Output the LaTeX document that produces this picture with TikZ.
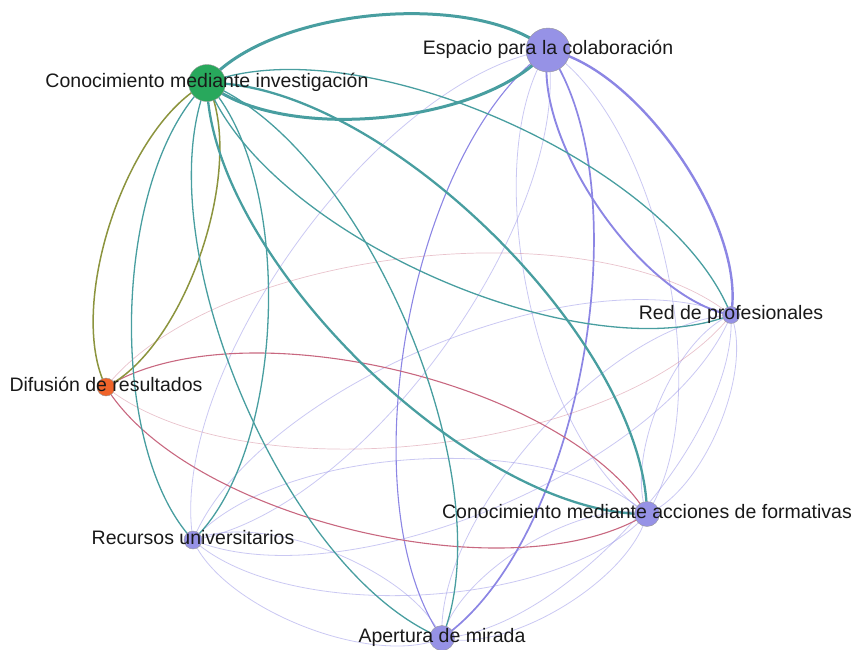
\documentclass[tikz,border=0pt]{standalone}
\usepackage{fontspec}
\setmainfont{Liberation Sans}
\usepackage{tikz}
\pgfdeclarelayer{edgeLayer}
\pgfsetlayers{edgeLayer,main}
\tikzstyle{graphView} = [x = 1pt, y = -1pt]
\definecolor{greenNode}{RGB}{40,168,92}
\definecolor{purpleNode}{RGB}{150,146,230}
\definecolor{orangeNode}{RGB}{240,100,42}
\definecolor{tealEdge}{RGB}{72,158,160}
\definecolor{oliveEdge}{RGB}{140,148,62}
\definecolor{pinkEdge}{RGB}{200,104,128}
\definecolor{purpleEdge}{RGB}{140,134,228}
\tikzstyle{nodeStyle} = [circle, draw=black!40, line width=.4pt, inner sep=0pt]
\tikzstyle{labelText} = [anchor=base, yshift=-4pt, inner sep=0pt, text=black!90, font=\fontsize{19.5}{22}\selectfont]
\tikzstyle{arcStyle} = [bend left=45, looseness=.72]
\tikzstyle{tealLine} = [color=tealEdge, line width=1.3pt]
\tikzstyle{tealHeavy} = [color=tealEdge, line width=2.3pt]
\tikzstyle{oliveLine} = [color=oliveEdge, line width=1.5pt]
\tikzstyle{pinkLine} = [color=pinkEdge, line width=1.1pt]
\tikzstyle{pinkFaint} = [color=pinkEdge, line width=.7pt, opacity=.4]
\tikzstyle{purpleLine} = [color=purpleEdge, line width=1.4pt]
\tikzstyle{purpleFaint} = [color=purpleNode, line width=.8pt, opacity=.5]
\newcommand{\graphNode}[5]{\node [nodeStyle, fill=#4, minimum size=#5pt] (#1) at (#2,#3) {};}
\newcommand{\graphLabel}[2]{\node [labelText] (lbl#1) at (#1.center) {#2};}
\newcommand{\edgeArc}[3]{\draw [#3] (#1.center) to [arcStyle] (#2.center);}
\newcommand{\edgePair}[4]{\edgeArc{#1}{#2}{#3}\edgeArc{#2}{#1}{#4}}

\begin{document}
\begin{tikzpicture}[graphView]
\useasboundingbox (0,0) rectangle (855,649);
% nodes (circular layout)
\graphNode{I}{207}{83}{greenNode}{37}
\graphNode{E}{548}{50}{purpleNode}{44}
\graphNode{R}{731}{315}{purpleNode}{17}
\graphNode{F}{647}{514}{purpleNode}{25}
\graphNode{A}{442}{638}{purpleNode}{25}
\graphNode{U}{193}{540}{purpleNode}{18}
\graphNode{D}{106}{387}{orangeNode}{18}
\begin{pgfonlayer}{edgeLayer}
% purple edges
\edgePair{E}{U}{purpleFaint}{purpleFaint}
\edgePair{E}{F}{purpleFaint}{purpleFaint}
\edgePair{R}{F}{purpleFaint}{purpleFaint}
\edgePair{R}{A}{purpleFaint}{purpleFaint}
\edgePair{R}{U}{purpleFaint}{purpleFaint}
\edgePair{F}{A}{purpleFaint}{purpleFaint}
\edgePair{F}{U}{purpleFaint}{purpleFaint}
\edgePair{A}{U}{purpleFaint}{purpleFaint}
\edgePair{E}{A}{purpleLine, line width=1.7pt}{purpleLine, line width=1.1pt}
\edgePair{E}{R}{purpleLine, line width=2.4pt}{purpleLine, line width=1.9pt}
% difusion edges
\edgePair{D}{R}{pinkFaint}{pinkFaint}
\edgePair{D}{F}{pinkLine}{pinkLine}
% investigacion edges
\edgePair{I}{D}{oliveLine}{oliveLine}
\edgePair{I}{U}{tealLine}{tealLine}
\edgePair{I}{A}{tealLine}{tealLine}
\edgePair{I}{R}{tealLine}{tealLine}
\edgePair{I}{F}{tealHeavy}{tealHeavy}
\edgePair{I}{E}{tealHeavy, line width=3pt}{tealHeavy, line width=3pt}
\end{pgfonlayer}
% labels
\graphLabel{I}{Conocimiento mediante investigación}
\graphLabel{E}{Espacio para la colaboración}
\graphLabel{R}{Red de profesionales}
\graphLabel{F}{Conocimiento mediante acciones de formativas}
\graphLabel{A}{Apertura de mirada}
\graphLabel{U}{Recursos universitarios}
\graphLabel{D}{Difusión de resultados}
\end{tikzpicture}
\end{document}
